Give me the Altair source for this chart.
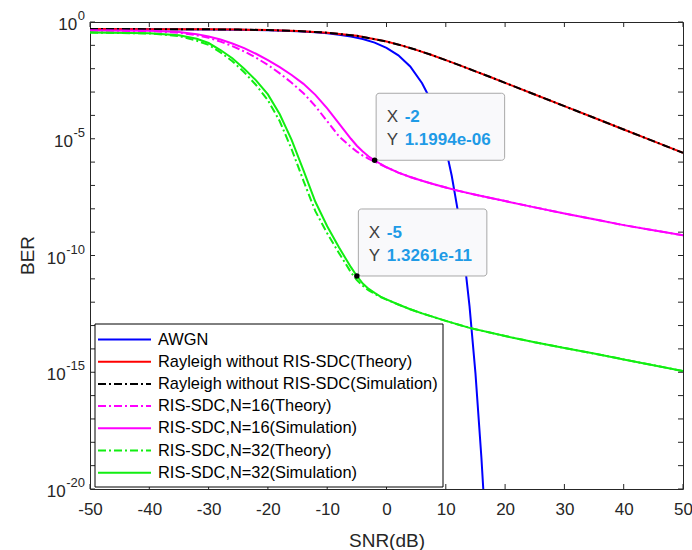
import altair as alt
import pandas as pd

# ---------------- data ----------------
series_names = [
    "AWGN",
    "Rayleigh without RIS-SDC(Theory)",
    "Rayleigh without RIS-SDC(Simulation)",
    "RIS-SDC,N=16(Theory)",
    "RIS-SDC,N=16(Simulation)",
    "RIS-SDC,N=32(Theory)",
    "RIS-SDC,N=32(Simulation)",
]

snr_awgn = [-50, -40, -30, -25, -20, -15, -12, -10, -8, -6, -4, -2, 0, 2, 4, 6, 7, 8, 9,
            10, 11, 12, 13, 14, 15, 16, 16.5]
ber_awgn = [0.4982, 0.4944, 0.4822, 0.4683, 0.4438, 0.4007, 0.3612, 0.3274, 0.2867, 0.2392,
            0.1861, 0.1306, 0.0786, 0.0375, 0.0125, 2.39e-3, 7.7e-4, 1.91e-4, 3.36e-5,
            3.87e-6, 2.61e-7, 9.0e-9, 1.33e-10, 6.8e-13, 9.1e-16, 2.3e-19, 1.7e-21]

snr_ray = [-50, -40, -35, -30, -25, -20, -15, -10, -5, 0, 2.5, 5, 7.5, 10, 12.5, 15, 17.5,
           20, 25, 30, 35, 40, 45, 50]
ber_ray_theory = [0.4984, 0.495, 0.4911, 0.4842, 0.4719, 0.4502, 0.4125, 0.3492, 0.2549,
                  0.1464, 0.1, 0.0642, 0.0393, 0.02327, 0.0135, 0.00772, 0.00439, 0.002481,
                  7.87e-4, 2.49e-4, 7.9e-5, 2.5e-5, 7.9e-6, 2.5e-6]
ber_ray_sim = [0.4984, 0.495, 0.4911, 0.4842, 0.4719, 0.4502, 0.4125, 0.3492, 0.2549,
               0.1464, 0.1, 0.0642, 0.0393, 0.02327, 0.0135, 0.00772, 0.00439, 0.002481,
               7.87e-4, 2.49e-4, 7.9e-5, 2.5e-5, 7.9e-6, 2.5e-6]

snr_n16 = [-50, -40, -35, -32, -30, -28, -26, -24, -22, -20, -18, -16, -14, -12, -10, -8,
           -6, -5, -4, -3, -2, -1, 0, 2, 4, 6, 8, 10, 12, 15, 20, 25, 30, 35, 40, 45, 50]
ber_n16_sim = [0.4365, 0.4169, 0.3715, 0.302, 0.2399, 0.1778, 0.1202, 0.07586, 0.04365,
               0.02344, 0.01175, 5.37e-3, 2.24e-3, 7.59e-4, 2.0e-4, 4.47e-5, 1.0e-5, 5.01e-6,
               2.82e-6, 1.74e-6, 1.1994e-6, 8.3e-7, 6.0e-7, 3.55e-7, 2.29e-7, 1.58e-7,
               1.12e-7, 8.1e-8, 6.0e-8, 3.98e-8, 2.14e-8, 1.15e-8, 6.3e-9, 3.55e-9, 2.0e-9,
               1.2e-9, 7.4e-10]
ber_n16_theory = [0.4365, 0.4074, 0.3467, 0.2692, 0.2089, 0.1445, 0.0933, 0.055, 0.0295,
                  0.01445, 6.31e-3, 2.51e-3, 8.91e-4, 2.51e-4, 5.62e-5, 1.26e-5, 4.47e-6,
                  2.82e-6, 1.91e-6, 1.38e-6, 1.05e-6, 7.9e-7, 6.0e-7, 3.55e-7, 2.29e-7,
                  1.58e-7, 1.12e-7, 8.1e-8, 6.0e-8, 3.98e-8, 2.14e-8, 1.15e-8, 6.3e-9,
                  3.55e-9, 2.0e-9, 1.2e-9, 7.4e-10]

snr_n32 = [-50, -40, -35, -32, -30, -28, -26, -24, -22, -20, -18, -16, -14, -12, -10, -8,
           -6, -5, -4, -3, -2, -1, 0, 2, 4, 6, 8, 10, 14, 20, 25, 30, 35, 40, 45, 50]
ber_n32_sim = [0.3548, 0.3311, 0.2692, 0.1905, 0.1259, 0.0631, 0.02818, 0.01, 3.16e-3,
               7.94e-4, 1.12e-4, 8.9e-6, 4.47e-7, 2.0e-8, 1.78e-9, 2.19e-10, 3.16e-11,
               1.3261e-11, 6.31e-12, 3.72e-12, 2.51e-12, 1.74e-12, 1.32e-12, 7.94e-13,
               5.01e-13, 3.31e-13, 2.29e-13, 1.58e-13, 7.94e-14, 3.55e-14, 1.91e-14,
               1.1e-14, 6.31e-15, 3.55e-15, 2.0e-15, 1.12e-15]
ber_n32_theory = [0.3548, 0.3236, 0.2512, 0.1585, 0.1047, 0.0501, 0.02089, 7.08e-3, 2.0e-3,
                  4.47e-4, 5.62e-5, 3.55e-6, 1.58e-7, 7.94e-9, 8.91e-10, 1.26e-10, 1.91e-11,
                  8.91e-12, 5.01e-12, 3.16e-12, 2.29e-12, 1.66e-12, 1.29e-12, 7.94e-13,
                  5.01e-13, 3.31e-13, 2.29e-13, 1.58e-13, 7.94e-14, 3.55e-14, 1.91e-14,
                  1.1e-14, 6.31e-15, 3.55e-15, 2.0e-15, 1.12e-15]

tip_x = [-2, -5]
tip_y = [1.1994e-06, 1.3261e-11]
tip_xtext = ["-2", "-5"]
tip_ytext = ["1.1994e-06", "1.3261e-11"]

x_ticks = [-50, -40, -30, -20, -10, 0, 10, 20, 30, 40, 50]
y_label_exps = ["0", "-5", "-10", "-15", "-20"]
y_minor_exps = list(range(0, -21, -1))
x_title = "SNR(dB)"
y_title = "BER"

# ---------------- styling ----------------
W, H = 593, 467
FONT = "Liberation Sans"
TXT = "#262626"
DASHDOT = [8, 3, 2, 3]
colors = ["#0000ff", "#ff0000", "#000000", "#ff00ff", "#ff00ff", "#11ee11", "#11ee11"]
dashes = [None, None, DASHDOT, DASHDOT, None, DASHDOT, None]
xs = [snr_awgn, snr_ray, snr_ray, snr_n16, snr_n16, snr_n32, snr_n32]
ys = [ber_awgn, ber_ray_theory, ber_ray_sim, ber_n16_theory, ber_n16_sim, ber_n32_theory, ber_n32_sim]

xscale = alt.Scale(domain=[-50, 50], nice=False, zero=False)
yscale = alt.Scale(type="log", domain=[1e-20, 1], nice=False)

xaxis = alt.Axis(values=x_ticks, ticks=False, domain=False, grid=False, labelFlush=False,
                 labelOverlap=False, labelExpr="'' + datum.value", labelFontSize=17,
                 labelPadding=12, labelColor=TXT, labelFont=FONT, titleFont=FONT,
                 titleFontSize=19, titleFontWeight="normal", titleColor=TXT, titleY=51,
                 titleBaseline="middle")
yaxis = alt.Axis(labels=False, ticks=False, domain=False, grid=False)


def X(field):
    return alt.X(field, type="quantitative", scale=xscale, axis=xaxis, title=x_title)


def Y(field):
    return alt.Y(field, type="quantitative", scale=yscale, axis=yaxis, title=None)


layers = []

# curves
for name, x, y, c, d in zip(series_names, xs, ys, colors, dashes):
    df = pd.DataFrame({"snr": x, "ber": y})
    kw = dict(color=c, strokeWidth=2, clip=True)
    if d:
        kw["strokeDash"] = d
    layers.append(alt.Chart(df).mark_line(**kw).encode(x=X("snr"), y=Y("ber")))

# inward ticks
xt = pd.DataFrame({"t": x_ticks})
yt = pd.DataFrame({"d": [10.0 ** e for e in y_minor_exps]})
tick_col = "#262626"
layers.append(alt.Chart(xt).mark_rule(color=tick_col, strokeWidth=1).encode(
    x=X("t"), y=alt.value(0), y2=alt.value(5)))
layers.append(alt.Chart(xt).mark_rule(color=tick_col, strokeWidth=1).encode(
    x=X("t"), y=alt.value(H), y2=alt.value(H - 5)))
layers.append(alt.Chart(yt).mark_rule(color=tick_col, strokeWidth=1).encode(
    y=Y("d"), x=alt.value(0), x2=alt.value(5)))
layers.append(alt.Chart(yt).mark_rule(color=tick_col, strokeWidth=1).encode(
    y=Y("d"), x=alt.value(W), x2=alt.value(W - 5)))

# y tick labels: "10" with a raised exponent
EXP_FS = 13
ylab = pd.DataFrame({"e": y_label_exps}).assign(v=[10.0 ** int(e) for e in y_label_exps])
layers.append(alt.Chart(ylab).mark_text(align="right", baseline="middle", font=FONT, fontSize=EXP_FS,
                                        color=TXT, dy=-6).encode(
    x=alt.value(-5), y=Y("v"), text="e:N"))
layers.append(alt.Chart(ylab).transform_calculate(
    xr=f"-5.5 - {EXP_FS}*(0.556*length(replace(datum.e, '-', '')) + (indexof(datum.e, '-') >= 0 ? 0.333 : 0))"
).mark_text(align="right", baseline="middle", font=FONT, fontSize=17, color=TXT, dy=3, text="10").encode(
    x=alt.X("xr:Q", scale=None), y=Y("v")))

# y axis title (centred on the axis, as MATLAB does)
one = pd.DataFrame({"k": [0]})
layers.append(alt.Chart(one).mark_text(text=y_title, angle=270, align="center", baseline="middle",
                                       font=FONT, fontSize=19, color=TXT).encode(
    x=alt.value(-62), y=alt.value(H / 2)))

# data tips
tips = pd.DataFrame({"x": tip_x, "y": tip_y, "xt": tip_xtext, "yt": tip_ytext})
layers.append(alt.Chart(tips).mark_rect(fill="#f9f9fb", stroke="#a8a8a8", strokeWidth=1,
                                        cornerRadius=3, xOffset=1.5, x2Offset=130,
                                        y2Offset=-67).encode(
    x=X("x"), x2="x", y=Y("y"), y2="y"))
layers.append(alt.Chart(tips).mark_point(filled=True, color="#000000", size=30, opacity=1).encode(
    x=X("x"), y=Y("y")))
for lab, dy in [("X", -43), ("Y", -20)]:
    layers.append(alt.Chart(tips).mark_text(text=lab, align="left", baseline="middle", dx=12, dy=dy,
                                            font=FONT, fontSize=17, color="#404040").encode(
        x=X("x"), y=Y("y")))
layers.append(alt.Chart(tips).mark_text(align="left", baseline="middle", dx=30, dy=-43, font=FONT,
                                        fontSize=17, fontWeight="bold", color="#1f9be6").encode(
    x=X("x"), y=Y("y"), text="xt:N"))
layers.append(alt.Chart(tips).mark_text(align="left", baseline="middle", dx=30, dy=-20, font=FONT,
                                        fontSize=17, fontWeight="bold", color="#1f9be6").encode(
    x=X("x"), y=Y("y"), text="yt:N"))

# legend (drawn in plot pixel space)
layers.append(alt.Chart(one).mark_rect(fill="white", stroke="#000000", strokeWidth=1).encode(
    x=alt.value(5), x2=alt.value(353), y=alt.value(302), y2=alt.value(465)))
for i, (name, c, d) in enumerate(zip(series_names, colors, dashes)):
    ly = 317.5 + i * 22.2
    kw = dict(color=c, strokeWidth=2)
    if d:
        kw["strokeDash"] = d
    layers.append(alt.Chart(one).mark_rule(**kw).encode(
        x=alt.value(8), x2=alt.value(61), y=alt.value(ly)))
    layers.append(alt.Chart(one).mark_text(text=name, align="left", baseline="middle", font=FONT,
                                           fontSize=16.4, color="#000000").encode(
        x=alt.value(68), y=alt.value(ly)))

chart = alt.layer(*layers).properties(
    width=W, height=H,
    autosize=alt.AutoSizeParams(type="none"),
    padding={"left": 90, "top": 22, "right": 9, "bottom": 61},
    background="white",
).configure_view(stroke="#262626", strokeWidth=1)

chart.save("out.html", embed_options={"renderer": "svg", "actions": False})
